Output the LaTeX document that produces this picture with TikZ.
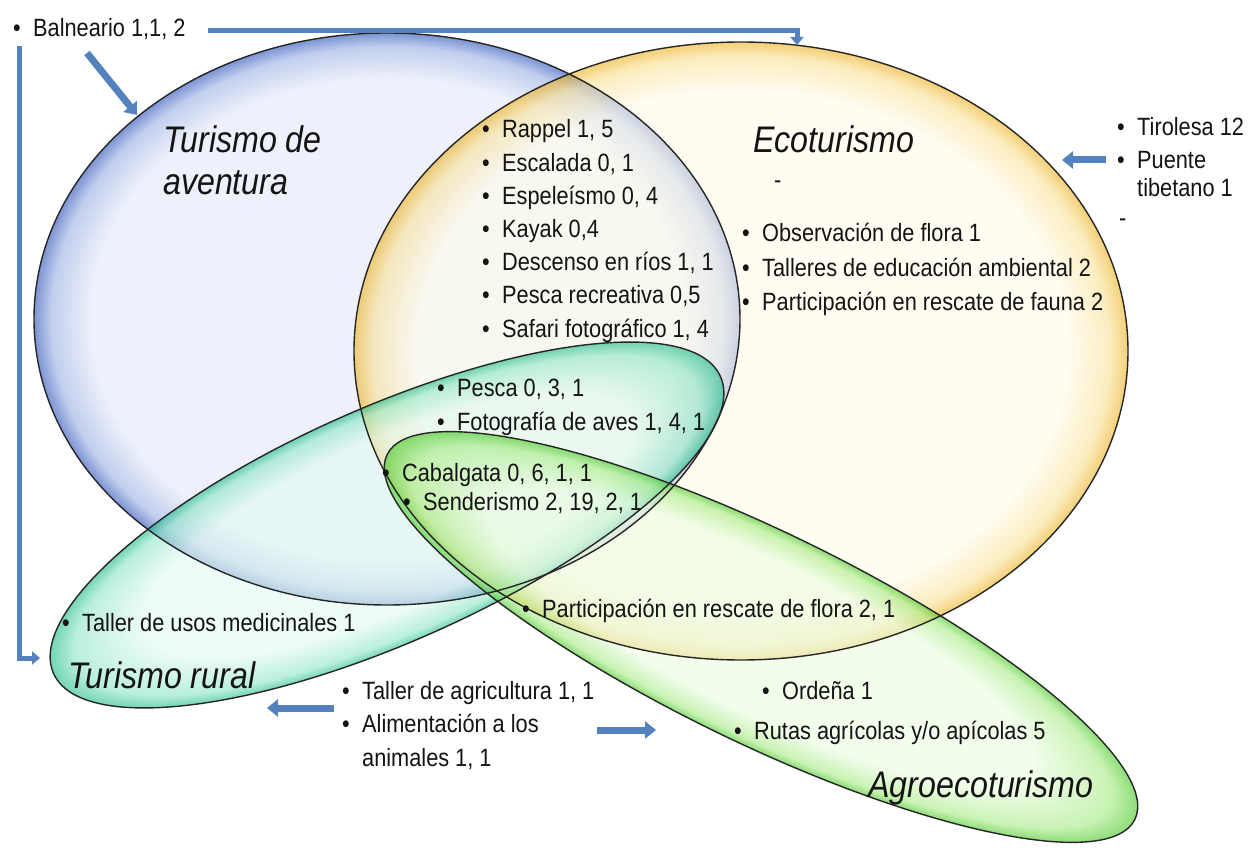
\documentclass[tikz,border=0pt]{standalone}
\usepackage{fontspec}
\setmainfont{Liberation Sans}[FakeStretch=0.87]
\usetikzlibrary{arrows.meta}
\definecolor{blueIn}{RGB}{234,238,250}
\definecolor{blueMid}{RGB}{178,194,234}
\definecolor{blueOut}{RGB}{92,122,200}
\definecolor{yelIn}{RGB}{255,251,234}
\definecolor{yelMid}{RGB}{250,226,150}
\definecolor{yelOut}{RGB}{236,176,30}
\definecolor{tealIn}{RGB}{226,250,241}
\definecolor{tealMid}{RGB}{140,230,196}
\definecolor{tealOut}{RGB}{25,185,135}
\definecolor{grnIn}{RGB}{234,252,224}
\definecolor{grnMid}{RGB}{165,235,130}
\definecolor{grnOut}{RGB}{65,198,30}
\definecolor{arrowblue}{RGB}{84,130,190}
\definecolor{txt}{RGB}{20,20,20}
\pgfdeclareradialshading{blueglow}{\pgfpointorigin}{color(0bp)=(blueIn); color(21bp)=(blueIn); color(23.8bp)=(blueMid); color(25bp)=(blueOut); color(50bp)=(blueOut)}
\pgfdeclareradialshading{yelglow}{\pgfpointorigin}{color(0bp)=(yelIn); color(21bp)=(yelIn); color(23.8bp)=(yelMid); color(25bp)=(yelOut); color(50bp)=(yelOut)}
\pgfdeclareradialshading{tealglow}{\pgfpointorigin}{color(0bp)=(tealIn); color(18bp)=(tealIn); color(23.2bp)=(tealMid); color(25bp)=(tealOut); color(50bp)=(tealOut)}
\pgfdeclareradialshading{grnglow}{\pgfpointorigin}{color(0bp)=(grnIn); color(18bp)=(grnIn); color(23.2bp)=(grnMid); color(25bp)=(grnOut); color(50bp)=(grnOut)}
\newcommand{\bl}{\makebox[20pt][l]{\textbullet}}
\begin{document}
\begin{tikzpicture}[x=1pt,y=-1pt,
  itm/.style={anchor=base west, inner sep=0pt, text=txt, font=\fontsize{25}{29}\selectfont},
  ttl/.style={anchor=base west, inner sep=0pt, text=txt, font=\fontsize{37}{41}\selectfont\itshape},
  rim/.style={draw=black!85, line width=1.4pt},
  bar/.style={draw=arrowblue, line width=5pt, -{Triangle[width=13pt,length=8pt]}},
  blk/.style={draw=arrowblue, line width=7pt, -{Triangle[width=17pt,length=11pt]}}
]
\fill[white] (0,0) rectangle (1251,858);
\useasboundingbox (0,0) rectangle (1251,858);

% ---- fills
\shade[shading=blueglow, fill opacity=0.8] (387,319) ellipse [x radius=353, y radius=286];
\shade[shading=yelglow, fill opacity=0.6] (741,351) ellipse [x radius=387, y radius=309];
\begin{scope}[transform canvas={shift={(387,525)}, rotate=24}]
  \shade[shading=tealglow, fill opacity=0.6] (0,0) ellipse [x radius=365, y radius=117];
\end{scope}
\begin{scope}[transform canvas={shift={(761,637)}, rotate=-26}]
  \shade[shading=grnglow, fill opacity=0.6] (0,0) ellipse [x radius=416, y radius=105];
\end{scope}

% ---- outlines
\draw[rim] (387,319) ellipse [x radius=353, y radius=286];
\draw[rim] (741,351) ellipse [x radius=387, y radius=309];
\draw[rim, rotate around={24:(387,525)}] (387,525) ellipse [x radius=365, y radius=117];
\draw[rim, rotate around={-26:(761,637)}] (761,637) ellipse [x radius=416, y radius=105];

% ---- titles
\node[ttl] (tav1) at (163,153) {Turismo de};
\node[ttl] (tav2) at (163,195) {aventura};
\node[ttl] (teco) at (753,153) {Ecoturismo};
\node[ttl] (trur) at (68,688) {Turismo rural};
\node[ttl] (tagr) at (868,797) {Agroecoturismo};

% ---- texts
\node[itm] (bal) at (13,37) {\bl Balneario 1,1, 2};

\node[itm] (a1) at (482,138) {\bl Rappel 1, 5};
\node[itm] (a2) at (482,171.2) {\bl Escalada 0, 1};
\node[itm] (a3) at (482,204.4) {\bl Espeleísmo 0, 4};
\node[itm] (a4) at (482,237.6) {\bl Kayak 0,4};
\node[itm] (a5) at (482,270.8) {\bl Descenso en ríos 1, 1};
\node[itm] (a6) at (482,304) {\bl Pesca recreativa 0,5};
\node[itm] (a7) at (482,337.2) {\bl Safari fotográfico 1, 4};

\node[itm] (edash) at (774,189) {-};
\node[itm] (e1) at (742,242) {\bl Observación de flora 1};
\node[itm] (e2) at (742,277) {\bl Talleres de educación ambiental 2};
\node[itm] (e3) at (742,311) {\bl Participación en rescate de fauna 2};

\node[itm] (t1) at (1117,136) {\bl Tirolesa 12};
\node[itm] (t2) at (1117,169) {\bl Puente};
\node[itm] (t3) at (1137,197) {tibetano 1};
\node[itm] (tdash) at (1119,227) {-};

\node[itm] (p1) at (437,397) {\bl Pesca 0, 3, 1};
\node[itm] (p2) at (437,431) {\bl Fotografía de aves 1, 4, 1};
\node[itm] (c1) at (382,482) {\bl Cabalgata 0, 6, 1, 1};
\node[itm] (c2) at (403,511) {\bl Senderismo 2, 19, 2, 1};

\node[itm] (r1) at (62,631) {\bl Taller de usos medicinales 1};
\node[itm] (f1) at (522,617) {\bl Participación en rescate de flora 2, 1};

\node[itm] (g1) at (342,699) {\bl Taller de agricultura 1, 1};
\node[itm] (g2) at (342,732) {\bl Alimentación a los};
\node[itm] (g3) at (362,766) {animales 1, 1};

\node[itm] (o1) at (762,699) {\bl Ordeña 1};
\node[itm] (o2) at (734,739) {\bl Rutas agrícolas y/o apícolas 5};

% ---- connectors
\coordinate (balE) at (208,31);
\coordinate (ecoTop) at (797,45);
\coordinate (balS) at (19,46);
\coordinate (rurW) at (40,658);
\coordinate (balD) at (87,53);
\coordinate (aveNW) at (137,115);
\coordinate (tirS) at (1106,160);
\coordinate (tirE) at (1062,160);
\coordinate (agrS) at (334,708);
\coordinate (agrE) at (267,708);
\coordinate (aliS) at (597,730);
\coordinate (aliE) at (656,730);

\draw[bar] (balE) -| (ecoTop);
\draw[bar] (balS) |- (rurW);
\draw[blk] (balD) -- (aveNW);
\draw[blk] (tirS) -- (tirE);
\draw[blk] (agrS) -- (agrE);
\draw[blk] (aliS) -- (aliE);
\end{tikzpicture}
\end{document}
